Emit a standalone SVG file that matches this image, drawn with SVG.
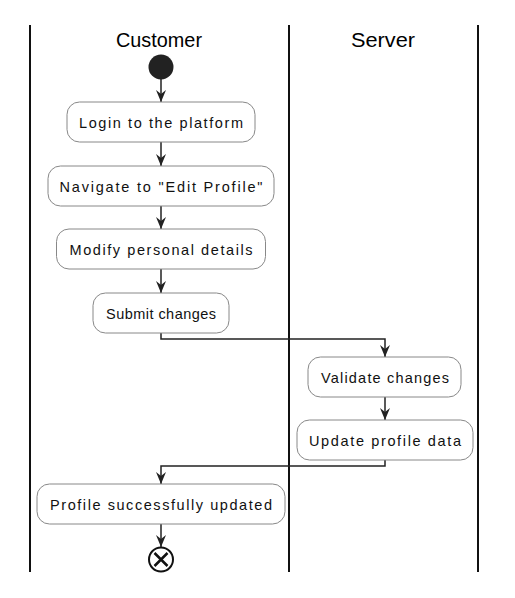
<svg xmlns="http://www.w3.org/2000/svg" width="515" height="598" viewBox="0 0 515 598">
<style>
.lane{stroke:#111;stroke-width:2;fill:none}
.title{font-family:"Liberation Sans",Arial,sans-serif;font-size:21px;fill:#000;text-anchor:middle}
.box{fill:#fff;stroke:#888;stroke-width:1}
.lbl{font-family:"Liberation Sans",Arial,sans-serif;font-size:14.5px;fill:#111;text-anchor:middle}
.edge{stroke:#222;stroke-width:1.5;fill:none}
</style>
<defs>
<marker id="ah" viewBox="0 0 13 12" refX="12" refY="6" markerWidth="13" markerHeight="12" markerUnits="userSpaceOnUse" orient="auto">
<path d="M12 6 L0 1 L4 6 L0 11 Z" fill="#222"/>
</marker>
</defs>
<rect width="515" height="598" fill="#fff"/>
<g id="lanes">
<line class="lane" x1="30" y1="25" x2="30" y2="572"/>
<line class="lane" x1="289" y1="25" x2="289" y2="572"/>
<line class="lane" x1="478" y1="25" x2="478" y2="572"/>
<text class="title" x="159" y="46.5" textLength="86" lengthAdjust="spacingAndGlyphs">Customer</text>
<text class="title" x="383" y="46.5" textLength="64" lengthAdjust="spacingAndGlyphs">Server</text>
</g>
<g id="connectors">
<path class="edge" d="M161 79 V102" marker-end="url(#ah)"/>
<path class="edge" d="M161 142 V166" marker-end="url(#ah)"/>
<path class="edge" d="M161 206 V229" marker-end="url(#ah)"/>
<path class="edge" d="M161 269 V293" marker-end="url(#ah)"/>
<path class="edge" d="M161 333 V339 H385 V357" marker-end="url(#ah)"/>
<path class="edge" d="M385 397 V420" marker-end="url(#ah)"/>
<path class="edge" d="M385 460 V466 H161 V484" marker-end="url(#ah)"/>
<path class="edge" d="M161 524 V547" marker-end="url(#ah)"/>
</g>
<g id="start">
<circle cx="161" cy="67" r="12.5" fill="#222"/>
</g>
<g id="login">
<rect class="box" x="67" y="102" width="188" height="40" rx="12.5"/>
<text class="lbl" x="161" y="128" textLength="164" lengthAdjust="spacing">Login to the platform</text>
</g>
<g id="navigate">
<rect class="box" x="48" y="166" width="226" height="40" rx="12.5"/>
<text class="lbl" x="161" y="192" textLength="203" lengthAdjust="spacing">Navigate to "Edit Profile"</text>
</g>
<g id="modify">
<rect class="box" x="56.5" y="229" width="209" height="40" rx="12.5"/>
<text class="lbl" x="161" y="255" textLength="183" lengthAdjust="spacing">Modify personal details</text>
</g>
<g id="submit">
<rect class="box" x="93" y="293" width="136" height="40" rx="12.5"/>
<text class="lbl" x="161" y="319" textLength="110" lengthAdjust="spacing">Submit changes</text>
</g>
<g id="validate">
<rect class="box" x="308" y="357" width="153" height="40" rx="12.5"/>
<text class="lbl" x="385" y="383" textLength="128" lengthAdjust="spacing">Validate changes</text>
</g>
<g id="update">
<rect class="box" x="297" y="420" width="176" height="40" rx="12.5"/>
<text class="lbl" x="385" y="446" textLength="152" lengthAdjust="spacing">Update profile data</text>
</g>
<g id="profile">
<rect class="box" x="37" y="484" width="248" height="40" rx="12.5"/>
<text class="lbl" x="161" y="510" textLength="222" lengthAdjust="spacing">Profile successfully updated</text>
</g>
<g id="end">
<circle cx="161" cy="559.5" r="12" fill="#fff" stroke="#111" stroke-width="2"/>
<path d="M154.5 553 L167.5 566 M167.5 553 L154.5 566" stroke="#111" stroke-width="2.5"/>
</g>
</svg>
